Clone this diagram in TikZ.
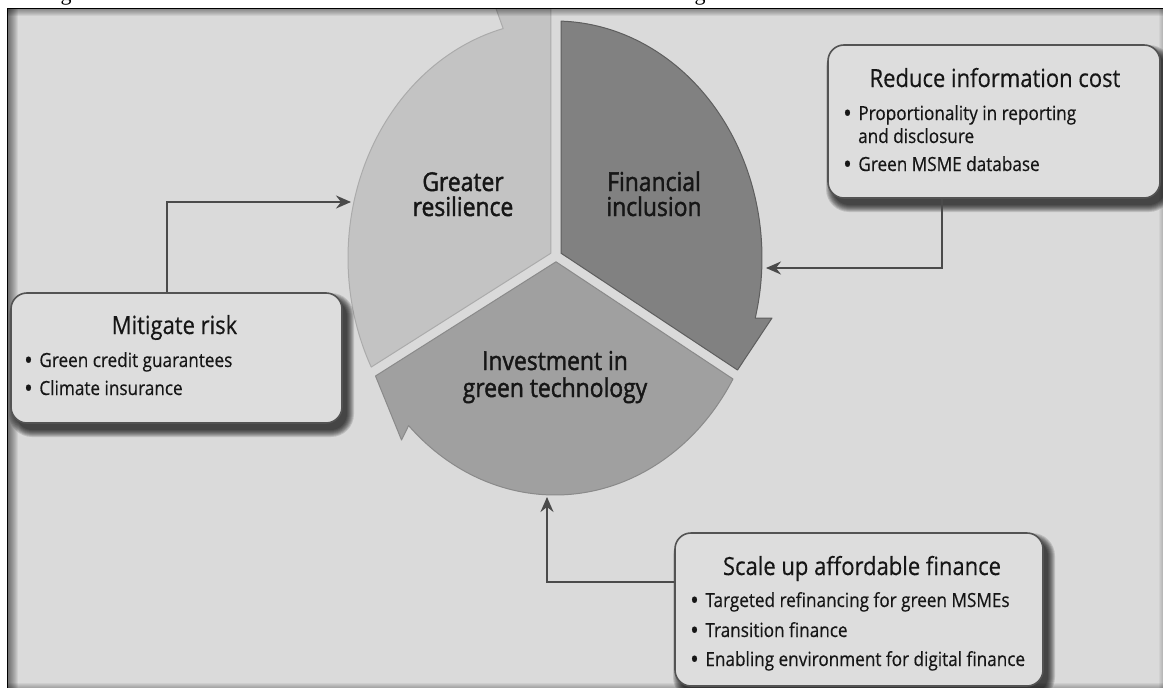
\documentclass[tikz,border=0pt]{standalone}
\usepackage{fontspec}
\usetikzlibrary{arrows.meta}
\newfontfamily\boxfont{Open Sans}[FakeStretch=0.88,FakeBold=0.4]
\newfontfamily\segfont{Open Sans}[FakeStretch=0.88,FakeBold=1.6]
\newfontfamily\capfont{Liberation Serif}
\definecolor{bgc}{HTML}{DADADA}
\definecolor{gfill}{HTML}{C3C3C3}
\definecolor{gline}{HTML}{ABABAB}
\definecolor{ffill}{HTML}{818181}
\definecolor{fline}{HTML}{5E5E5E}
\definecolor{ifill}{HTML}{A0A0A0}
\definecolor{iline}{HTML}{8A8A8A}
\definecolor{boxfill}{HTML}{DDDDDD}
\definecolor{boxline}{HTML}{535353}
\definecolor{connc}{HTML}{4A4A4A}
\definecolor{txt}{HTML}{161616}
% soft drop shadow under a rounded box: top-left (#1,#2), bottom-right (#3,#4)
\newcommand\softshadow[4]{%
  \foreach \e [evaluate=\e as \r using 16+\e] in {0,...,7}{%
    \fill[black,opacity=0.13,rounded corners=\r pt]
      ({#1+5-\e},{#2+7-\e}) rectangle ({#3+5+\e},{#4+7+\e});
  }}
\newcommand\bul{\raisebox{-2.2pt}{\fontsize{26}{0}\selectfont\textbullet}\hspace{6.6pt}}
\begin{document}
\begin{tikzpicture}[x=1pt,y=-1pt,
  seg/.style={line width=1pt,line join=round},
  segG/.style={seg,fill=gfill,draw=gline},
  segF/.style={seg,fill=ffill,draw=fline},
  segI/.style={seg,fill=ifill,draw=iline},
  infobox/.style={draw=boxline,fill=boxfill,line width=1.6pt,rounded corners=16pt,inner sep=0pt},
  conn/.style={draw=connc,line width=2pt,-{Stealth[length=15pt,width=13pt,inset=5pt]}},
  ttl/.style={font=\boxfont\fontsize{25}{28}\selectfont,text=txt,inner sep=0pt,anchor=base},
  itm/.style={font=\boxfont\fontsize{19.5}{24}\selectfont,text=txt,inner sep=0pt,anchor=base west},
  lab/.style={font=\segfont\fontsize{26}{28}\selectfont,text=txt,inner sep=0pt,anchor=base},
  captext/.style={font=\capfont\fontsize{22}{22}\selectfont,inner sep=0pt,anchor=base}]
\useasboundingbox (0,0) rectangle (1163,688);
\fill[white] (0,0) rectangle (1163,688);
% descenders of the caption line above the panel
\node[captext] (capA) at (66,0.5) {g};
\node[captext] (capB) at (700,0.5) {g};
% panel
\fill[bgc] (7,8) rectangle (1163,688);
\begin{scope}
  \clip (8,9) rectangle (1163,688);
  \begin{scope}[shift={(555,258)}]
    % Greater resilience
    \filldraw[segG] (-4.1,-4.8) -- (152.6:207 and 237)
      arc[start angle=152.6,end angle=255.5,x radius=207,y radius=237]
      -- (-61,-255) -- (-4.1,-280) -- cycle;
    % Financial inclusion
    \filldraw[segF] (6.1,-4.75) -- (-88.31:207 and 237)
      arc[start angle=-88.31,end angle=14.67,x radius=207,y radius=237]
      -- (217,60) -- (182.5,112) -- cycle;
    % Investment in green technology
    \filldraw[segI] (1,3.8) -- (30.7:207 and 237)
      arc[start angle=30.7,end angle=135,x radius=207,y radius=237]
      -- (-153.5,182) -- (-179.5,118) -- cycle;
  \end{scope}
  % inner shadow of the panel edges
  \foreach \i in {1,...,10} \fill[black,opacity=0.06] (8,9) rectangle ({8+\i},688);
  \foreach \i in {1,...,7} \fill[black,opacity=0.06] (8,9) rectangle (1163,{9+\i});
  \foreach \i in {1,...,5} \fill[black,opacity=0.05] (8,688) rectangle (1163,{688-\i});
  \foreach \i in {1,...,4} \fill[black,opacity=0.04] (1163,9) rectangle ({1163-\i},688);
\end{scope}
\draw[black,line width=1.3pt] (7.3,688) -- (7.3,8.3) -- (1163,8.3);

% segment labels
\node[lab] (gLabA) at (463,191) {Greater};
\node[lab] (gLabB) at (463,216) {resilience};
\node[lab] (fLabA) at (654,191) {Financial};
\node[lab] (fLabB) at (654,216) {inclusion};
\node[lab] (iLabA) at (555,370) {Investment in};
\node[lab] (iLabB) at (555,397) {green technology};

% boxes
\softshadow{11}{293}{342}{423}
\node[infobox,minimum width=331pt,minimum height=130pt] (mit) at (176.5,358) {};
\softshadow{828}{45}{1160}{198}
\node[infobox,minimum width=332pt,minimum height=153pt] (red) at (994,121.5) {};
\softshadow{675}{533}{1043}{686}
\node[infobox,minimum width=368pt,minimum height=153pt] (sca) at (859,609.5) {};

\node[ttl] (mitT) at (174.5,334) {Mitigate risk};
\node[itm] (mitA) at (24,367) {\bul Green credit guarantees};
\node[itm] (mitB) at (24,395) {\bul Climate insurance};

\node[ttl] (redT) at (995,87) {Reduce information cost};
\node[itm] (redA) at (843,120) {\bul Proportionality in reporting};
\node[itm] (redA2) at (858,143) {and disclosure};
\node[itm] (redB) at (843,171) {\bul Green MSME database};

\node[ttl] (scaT) at (862,575) {Scale up affordable finance};
\node[itm] (scaA) at (690,607) {\bul Targeted refinancing for green MSMEs};
\node[itm] (scaB) at (690,637) {\bul Transition finance};
\node[itm] (scaC) at (690,666) {\bul Enabling environment for digital finance};

% connectors into the cycle
\coordinate (gIn) at (351,202);
\coordinate (fIn) at (766,268);
\coordinate (iIn) at (547,497);
\draw[conn] ([xshift=-9.5pt]mit.north) |- (gIn);
\draw[conn] ([xshift=-52pt]red.south) |- (fIn);
\draw[conn] ([yshift=27.5pt]sca.west) -| (iIn);
\end{tikzpicture}
\end{document}
